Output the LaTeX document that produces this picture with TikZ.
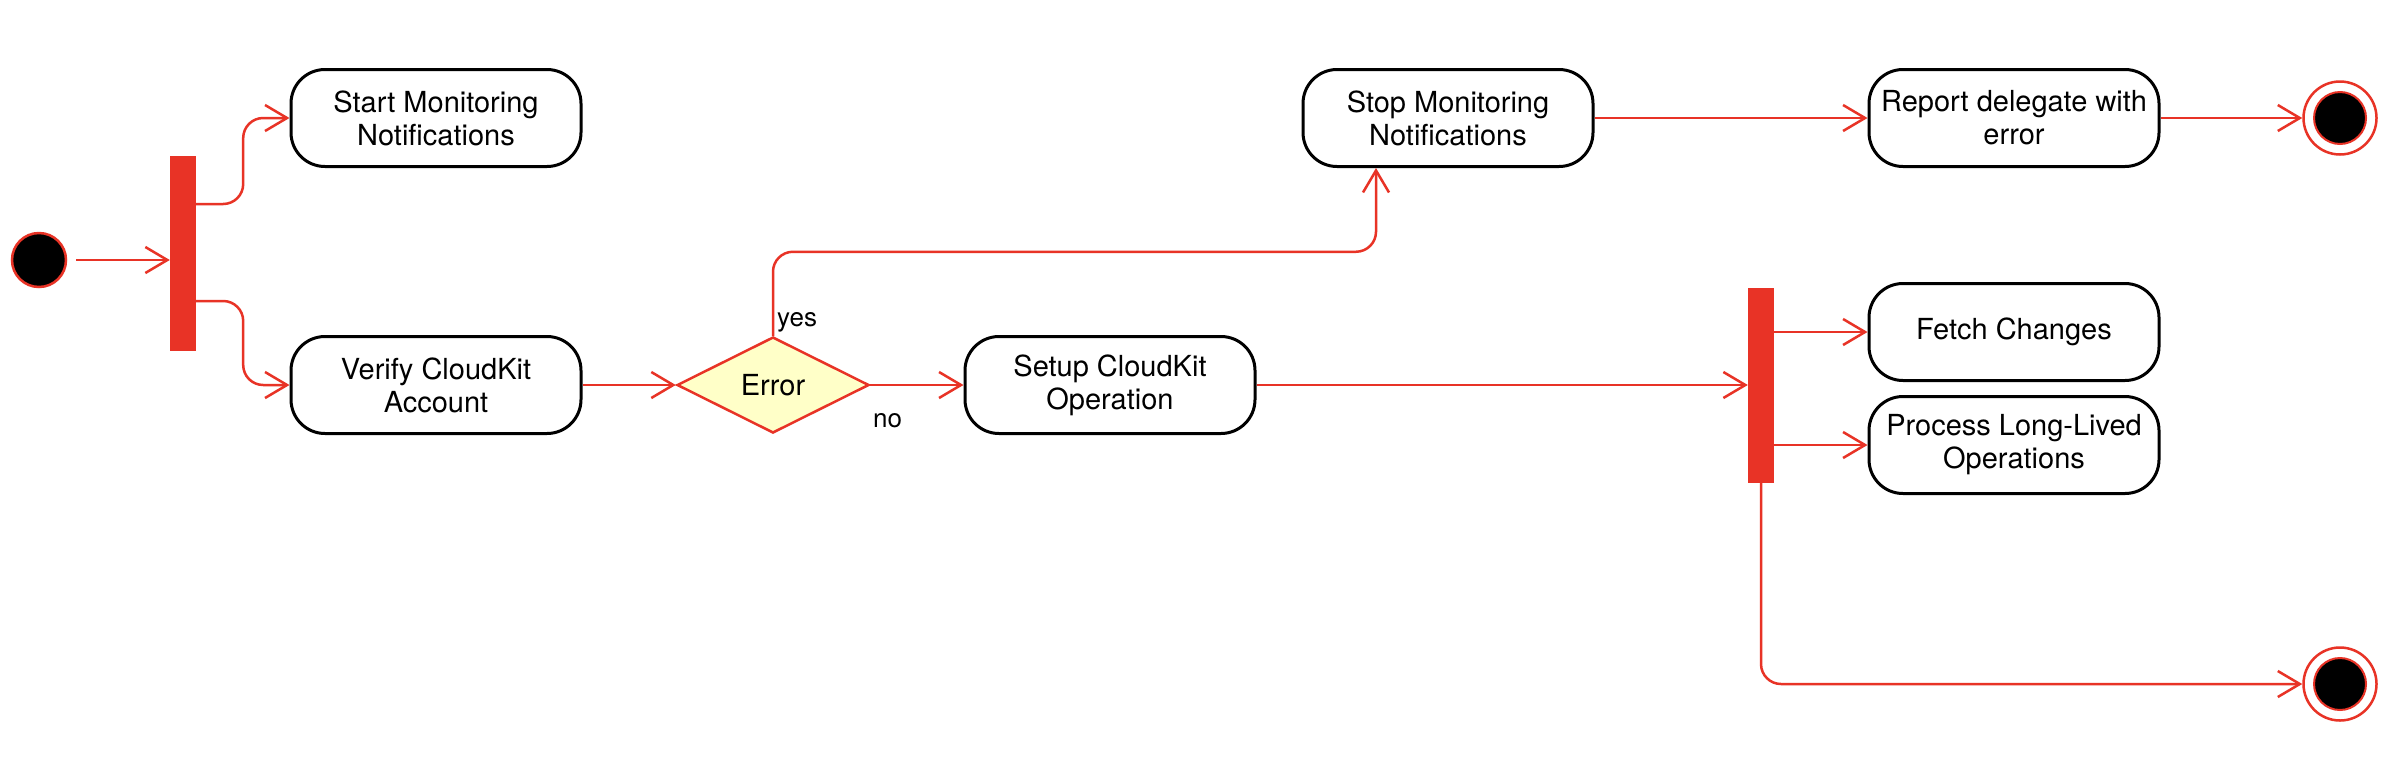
\documentclass[tikz,border=0pt]{standalone}
\usepackage{fontspec}
\setmainfont{TeX Gyre Heros}
\usetikzlibrary{shapes.geometric,arrows.meta,calc}
\definecolor{umlred}{RGB}{232,51,38}
\definecolor{umlyellow}{RGB}{255,255,200}
\begin{document}
\begin{tikzpicture}[x=1pt,y=-1pt,
  act/.style={draw=black,line width=3pt,rounded corners=34pt,minimum width=290pt,minimum height=97pt,inner sep=0pt,align=center,font=\fontsize{29}{33}\selectfont},
  forkbar/.style={fill=umlred,draw=none,minimum width=26pt,minimum height=195pt,inner sep=0pt},
  flow/.style={draw=umlred,line width=2.5pt,-{Straight Barb[length=22pt,width=26pt]},rounded corners=20pt},
  startdot/.style={circle,fill=black,draw=umlred,line width=2.5pt,minimum size=54pt,inner sep=0pt},
  endring/.style={circle,fill=white,draw=umlred,line width=2.5pt,minimum size=73pt,inner sep=0pt},
  enddot/.style={circle,fill=black,draw=umlred,line width=2pt,minimum size=52pt,inner sep=0pt},
  decision/.style={diamond,fill=umlyellow,draw=umlred,line width=2.5pt,minimum width=192pt,minimum height=96pt,inner sep=0pt,font=\fontsize{29}{33}\selectfont},
  lab/.style={inner sep=0pt,anchor=west,font=\fontsize{26}{30}\selectfont}]
\useasboundingbox (0,0) rectangle (2390,772);
\fill[white] (0,0) rectangle (2390,772);

\node[startdot] (start) at (39,260) {};
\node[forkbar] (fork1) at (183,253) {};
\node[act] (startmon) at (436,118) {Start Monitoring\\Notifications};
\node[act] (verify) at (436,385) {Verify CloudKit\\Account};
\node[decision] (error) at (773,385) {Error};
\node[act] (setup) at (1110,385) {Setup CloudKit\\Operation};
\node[act] (stopmon) at (1448,118) {Stop Monitoring\\Notifications};
\node[act] (report) at (2014,118) {Report delegate with\\error};
\node[endring] (end1) at (2340,118) {};
\node[enddot] (end1in) at (end1) {};
\node[forkbar] (fork2) at (1761,385) {};
\node[act] (fetch) at (2014,332) {Fetch Changes};
\node[act] (process) at (2014,445) {Process Long-Lived\\Operations};
\node[endring] (end2) at (2340,684) {};
\node[enddot] (end2in) at (end2) {};

\node[lab] (yeslab) at (777,322) {yes};
\node[lab] (nolab) at (873,421) {no};

\draw[flow,shorten <=9pt] (start.east) -- (fork1.west |- start.east);
\draw[flow] ([yshift=49pt]fork1.east) -- ++(47,0) |- (startmon.west);
\draw[flow] ([yshift=-48pt]fork1.east) -- ++(47,0) |- (verify.west);
\draw[flow] (verify.east) -- (error.west);
\draw[flow] (error.east) -- (setup.west);
\draw[flow] (error.north) -- ++(0,-84) -| ([xshift=-72pt]stopmon.south);
\draw[flow] (stopmon.east) -- (report.west);
\draw[flow] (report.east) -- (end1.west);
\draw[flow] (setup.east) -- (fork2.west);
\draw[flow] (fork2.east |- fetch.west) -- (fetch.west);
\draw[flow] (fork2.east |- process.west) -- (process.west);
\draw[flow] (fork2.south) |- (end2.west);
\end{tikzpicture}
\end{document}
